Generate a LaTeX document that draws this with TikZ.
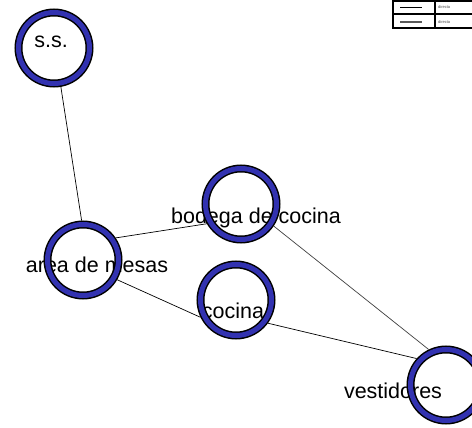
\documentclass[tikz,border=0pt]{standalone}
\usepackage{fontspec}
\setmainfont{Liberation Sans}
\usetikzlibrary{positioning}
\definecolor{ringblue}{RGB}{50,50,176}
\newcommand{\roomfont}{\fontsize{21.5}{24}\selectfont}

\begin{document}
\begin{tikzpicture}[
    x=1pt, y=-1pt,
    room/.style={circle, draw=black, line width=1.5pt, double=ringblue,
                 double distance=5pt, minimum size=71pt, inner sep=0pt, outer sep=4pt},
    lbl/.style={anchor=base, inner sep=0pt, font=\roomfont},
    link/.style={line width=0.7pt},
    key/.style={anchor=west, inner sep=0pt, font=\fontsize{4}{5}\selectfont, black!70}
]
\clip (0,0) rectangle (472,428);
\fill[white] (0,0) rectangle (472,428);

% labels first, the rings sit over them
\node[lbl] (ss-t)     at (51,48)   {s.s.};
\node[lbl] (mesas-t)  at (97,272)  {area de mesas};
\node[lbl] (bodega-t) at (256,223) {bodega de cocina};
\node[lbl] (cocina-t) at (233,318) {cocina};
\node[lbl] (vest-t)   at (393,398) {vestidores};

\node[room] (ss)     at (54,48)   {};
\node[room] (mesas)  at (83,260)  {};
\node[room] (bodega) at (241,204) {};
\node[room] (cocina) at (236,300) {};
\node[room] (vest)   at (446,385) {};

\draw[link] (ss.280)     -- (mesas.92);
\draw[link] (mesas.34)   -- (bodega.210);
\draw[link] (mesas.330)  -- (cocina.206);
\draw[link] (cocina.324) -- (vest.138);
\draw[link, black!75] (bodega.326) -- (vest.116);

% legend
\draw[line width=1.8pt] (480,0.8) -- (393,0.8) -- (393,28) -- (480,28);
\draw[line width=1.6pt] (393,14) -- (480,14);
\draw[line width=1.6pt] (435,0.8) -- (435,28);
\draw[line width=0.7pt] (400,7) -- (422,7);
\draw[line width=1.1pt, black!65] (400,22) -- (422,22);
\node[key] (key1) at (438,7)  {directa};
\node[key] (key2) at (438,22) {directa};
\end{tikzpicture}
\end{document}
